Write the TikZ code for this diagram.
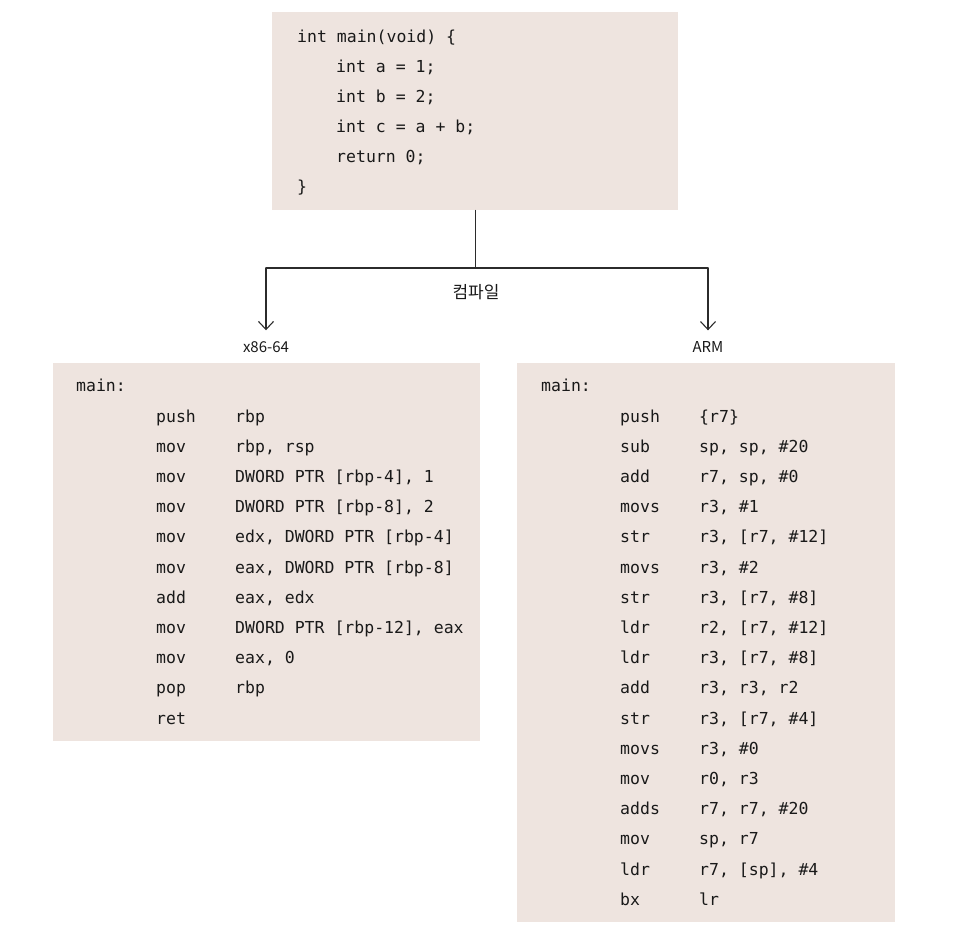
\documentclass[tikz,border=0pt]{standalone}
\usepackage{fontspec}
\usetikzlibrary{arrows.meta}
\newfontfamily\codefont{DejaVu Sans Mono}
\newfontfamily\krfont{Noto Sans CJK KR}
\definecolor{codebg}{HTML}{EEE4DF}
\definecolor{inkline}{HTML}{2B2B2B}

\begin{document}
\begin{tikzpicture}[
  x=1pt,
  y=-1pt,
  line join=round,
  line cap=round,
  codebox/.style={fill=codebg,draw=none,anchor=north west,inner sep=0pt},
  codeline/.style={anchor=base west,inner sep=0pt,text=black!90,
    font=\codefont\fontsize{16.5}{20}\selectfont},
  tag/.style={inner sep=0pt,text=black!90,font=\krfont\fontsize{15}{17}\selectfont},
  branch/.style={draw=inkline,line width=1.1pt},
  tip/.style={branch,shorten >=11pt,-{Straight Barb[length=8pt,width=15pt]}}
]
  \useasboundingbox (0,0) rectangle (978,932);

  % Background panels for the source and the two compiler outputs.
  \node[codebox,minimum width=406pt,minimum height=198pt] (src) at (272,12) {};
  \node[codebox,minimum width=427pt,minimum height=378pt] (x86) at (53,363) {};
  \node[codebox,minimum width=378pt,minimum height=559pt] (arm) at (517,363) {};

  % C source.
  \foreach \txt/\dx [count=\i] in {{int main(void) \{}/0, {int a = 1;}/39,
      {int b = 2;}/39, {int c = a + b;}/39, {return 0;}/39, {\}}/0} {
    \node[codeline] (srcline\i) at (297+\dx,12+30*\i) {\txt};
  }

  % Compile fork.
  \coordinate (fork) at (src.south |- 0,268);
  \coordinate (lend) at (266,268);
  \coordinate (rend) at (708,268);
  \node[tag] (x86tag) at (266,347) {x86-64};
  \node[tag] (armtag) at (708,347) {ARM};
  \node[tag,font=\krfont\fontsize{17}{19}\selectfont] (compile) at (476,292) {컴파일};
  \draw[branch] (src.south) -- (fork);
  \draw[branch] (lend) -- (rend);
  \draw[tip] (lend) -- (x86tag);
  \draw[tip] (rend) -- (armtag);

  % x86-64 listing.
  \node[codeline] (x86main) at (76,391) {main:};
  \foreach \op/\arg [count=\i] in {push/rbp, mov/{rbp, rsp},
      mov/{DWORD PTR [rbp-4], 1}, mov/{DWORD PTR [rbp-8], 2},
      mov/{edx, DWORD PTR [rbp-4]}, mov/{eax, DWORD PTR [rbp-8]},
      add/{eax, edx}, mov/{DWORD PTR [rbp-12], eax}, mov/{eax, 0},
      pop/rbp, ret/{}} {
    \node[codeline] (x86op\i) at (156,391.8+30.2*\i) {\op};
    \node[codeline] (x86arg\i) at (235,391.8+30.2*\i) {\arg};
  }

  % ARM listing.
  \node[codeline] (armmain) at (541,391) {main:};
  \foreach \op/\arg [count=\i] in {push/{\{r7\}}, sub/{sp, sp, \#20},
      add/{r7, sp, \#0}, movs/{r3, \#1}, str/{r3, [r7, \#12]},
      movs/{r3, \#2}, str/{r3, [r7, \#8]}, ldr/{r2, [r7, \#12]},
      ldr/{r3, [r7, \#8]}, add/{r3, r3, r2}, str/{r3, [r7, \#4]},
      movs/{r3, \#0}, mov/{r0, r3}, adds/{r7, r7, \#20}, mov/{sp, r7},
      ldr/{r7, [sp], \#4}, bx/lr} {
    \node[codeline] (armop\i) at (620,391.8+30.2*\i) {\op};
    \node[codeline] (armarg\i) at (699,391.8+30.2*\i) {\arg};
  }
\end{tikzpicture}
\end{document}
